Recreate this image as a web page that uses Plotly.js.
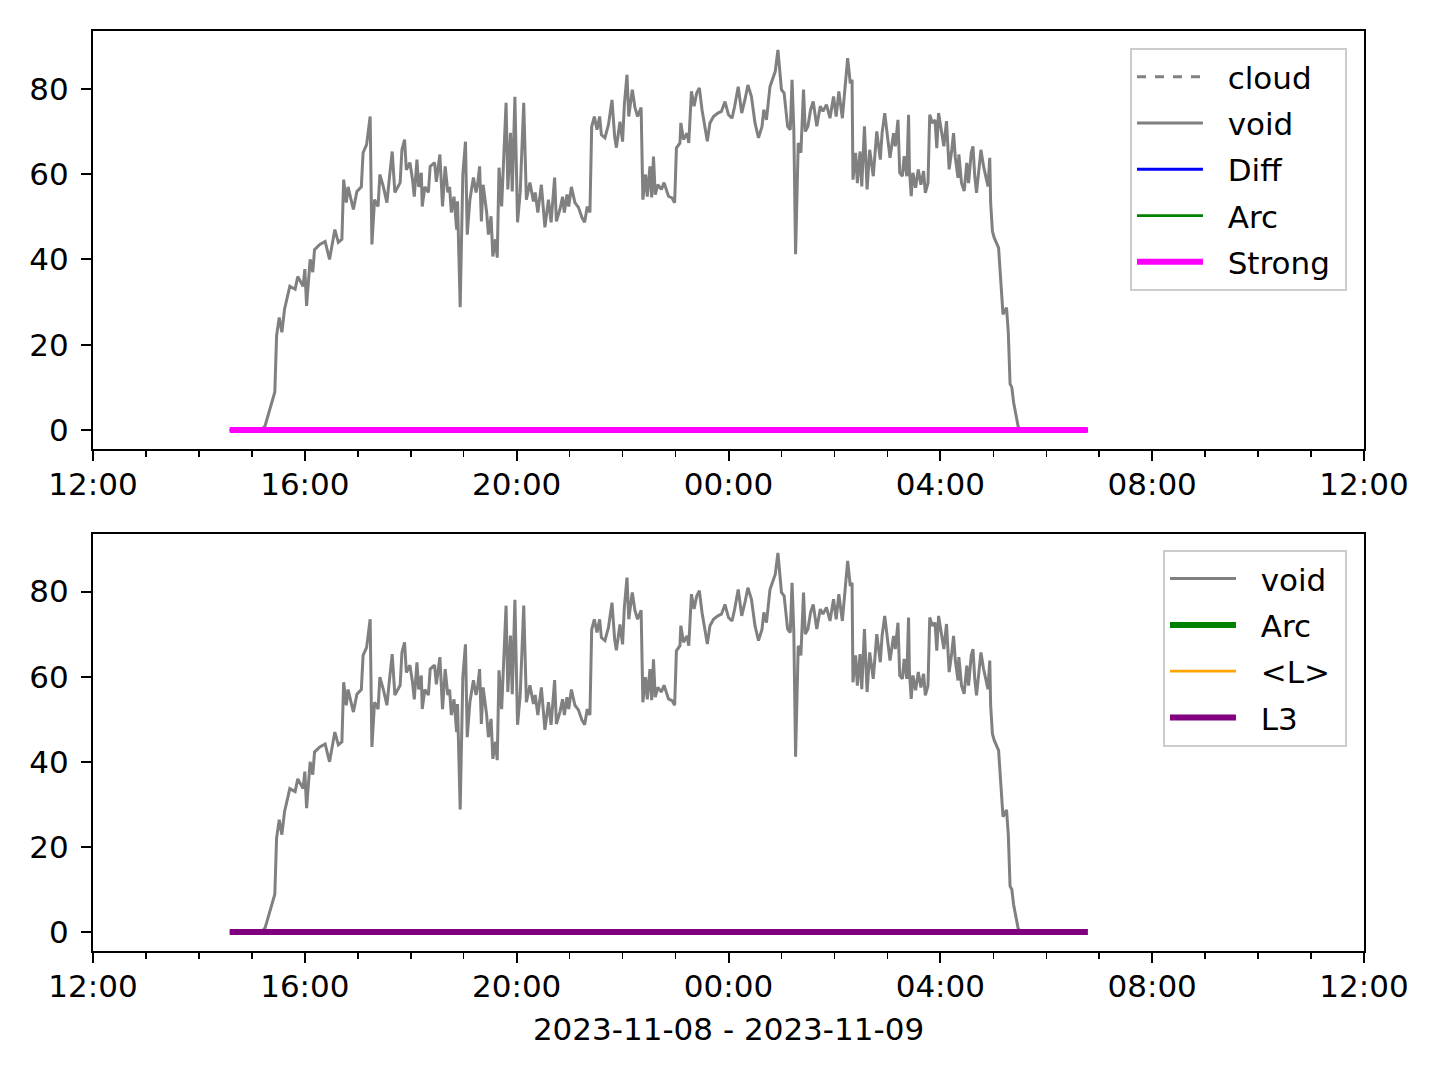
<!DOCTYPE html>
<html>
<head>
<meta charset="utf-8">
<script src="https://cdn.plot.ly/plotly-3.0.1.min.js"></script>
<style>html,body{margin:0;padding:0;background:#fff;}#chart{width:1440px;height:1080px;}</style>
</head>
<body>
<div id="chart"></div>
<script>
// ---- data (clock times; 12:00-23:59 on 2023-11-08, 00:00-11:59 on 2023-11-09) ----
const voidTimes = ["14:35","15:11","15:15","15:20","15:26","15:28","15:31","15:34","15:37","15:43","15:49","15:52","15:58","16:00","16:02","16:06","16:09","16:11","16:17","16:23","16:28","16:34","16:38","16:42","16:44","16:47","16:49","16:55","16:59","17:04","17:06","17:10","17:14","17:16","17:19","17:23","17:25","17:29","17:33","17:36","17:39","17:42","17:48","17:50","17:53","17:55","17:59","18:02","18:04","18:07","18:09","18:12","18:13","18:16","18:20","18:22","18:27","18:29","18:33","18:36","18:39","18:42","18:44","18:46","18:49","18:52","18:53","18:56","18:58","18:59","19:02","19:04","19:07","19:11","19:14","19:16","19:18","19:20","19:22","19:26","19:28","19:31","19:33","19:36","19:38","19:40","19:43","19:45","19:48","19:50","19:53","19:55","19:58","20:01","20:04","20:08","20:11","20:15","20:19","20:21","20:24","20:28","20:32","20:36","20:39","20:43","20:45","20:49","20:52","20:54","20:57","20:59","21:02","21:06","21:10","21:14","21:17","21:20","21:23","21:25","21:28","21:31","21:34","21:36","21:40","21:44","21:48","21:51","21:53","21:57","22:00","22:02","22:05","22:07","22:11","22:14","22:17","22:21","22:23","22:26","22:28","22:31","22:33","22:35","22:37","22:40","22:44","22:47","22:52","22:56","22:59","23:01","23:05","23:06","23:09","23:13","23:15","23:18","23:21","23:24","23:27","23:30","23:33","23:36","23:39","23:43","23:48","23:52","23:56","00:00","00:04","00:07","00:11","00:15","00:19","00:22","00:26","00:30","00:34","00:38","00:40","00:43","00:47","00:51","00:53","00:56","01:00","01:03","01:07","01:10","01:12","01:14","01:16","01:19","01:22","01:25","01:27","01:30","01:33","01:36","01:40","01:44","01:47","01:51","01:55","01:59","02:02","02:05","02:09","02:12","02:15","02:18","02:20","02:21","02:24","02:26","02:29","02:31","02:34","02:37","02:40","02:44","02:48","02:52","02:54","02:57","03:01","03:03","03:07","03:09","03:12","03:14","03:17","03:19","03:22","03:24","03:25","03:27","03:29","03:32","03:35","03:38","03:41","03:43","03:46","03:48","03:51","03:54","03:56","03:58","04:01","04:04","04:07","04:10","04:13","04:15","04:17","04:20","04:21","04:24","04:27","04:30","04:32","04:35","04:37","04:39","04:41","04:44","04:46","04:49","04:51","04:54","04:56","04:57","04:59","05:01","05:06","05:09","05:11","05:15","05:17","05:19","05:21","05:23","05:25","05:28","05:30","06:47"];
const voidValues = [0,0,1,4.9,8.9,22.1,26.4,22.9,28.3,33.7,33,36,33.7,37.7,29.1,40,37,42.3,43.5,44.2,40,47,44,44.7,58.7,53.3,57,51.7,55.9,57,65,66.9,73.5,43.5,54,52.4,59.9,57,53.3,59.5,65.3,55.7,58,65.7,68.1,61,62.7,58.7,54.7,63.4,57,60.3,52.4,57,55.7,61.8,62.7,58.2,64.6,52.4,61.8,55.7,57,51,54.7,47,53.6,28.8,55.7,59.9,67.6,45.8,54,59.2,55.7,58,61.8,48.9,57.5,51,45.8,50.1,40.7,44.7,40.4,61.5,52.4,62.7,76.7,56.4,69.7,55.9,78.1,48.7,55.7,76.7,54,58,53.6,55.7,51,57.5,47.5,54,48.7,59.2,48.9,51.7,54.7,51,55.2,52.4,57,53.3,52.2,49.8,48.7,52.4,51,71.1,73.5,70.4,73.5,69.2,68.5,71.6,77.4,68.8,66.2,72.3,67.6,76.3,83.3,73.5,79.8,75.6,73.5,75.6,54,59.9,54.7,61.8,54.5,64.1,55.2,57.5,56.4,58,54.8,54.4,53.3,66.1,67.3,72,68.1,69.6,67.3,79.4,75.9,79,80.2,75.1,70.8,67.7,72,73.5,74.3,74.7,77,73.9,73.1,75.9,80.5,74.3,77.8,80.9,78.2,72,68.5,71.2,75.1,72.7,80.5,82.9,84.1,89.1,79.8,79,71.2,70.4,82.1,70.4,41.2,67.3,65,79.8,70,71.2,75.1,77,71.2,75.9,74.7,76.3,73.1,78.2,73.5,79.4,73.1,80.2,87.2,81.3,82.1,58.7,65,57.9,65.3,57.1,71.2,56.4,65.7,59.5,70,63.4,69.6,74.3,68.1,63.8,69.6,66.5,72.7,60.3,59.5,64.2,59.5,73.9,61.1,54.8,60.3,56.8,61.1,57.5,60.7,55.6,57.9,73.9,72,72.7,66.1,74.3,70.4,66.5,72.4,61.1,65.7,69.6,63.8,59.1,64.6,57.9,56,62.6,57.9,65,66.5,59.5,55.6,61.1,65.7,61.8,59.9,57.1,63.8,53.3,46.6,45.1,42.7,32.2,27.1,28.7,22.9,10.8,10,6.5,4.1,1,0,0];

const cloudTimes = ["14:35","06:47"];  const cloudValues = [0,0];
const diffTimes = ["14:35","06:47"];   const diffValues = [0,0];
const arcTimes = ["14:35","06:47"];    const arcValues = [0,0];
const strongTimes = ["14:35","06:47"]; const strongValues = [0,0];
const meanLTimes = ["14:35","06:47"];  const meanLValues = [0,0];
const l3Times = ["14:35","06:47"];     const l3Values = [0,0];

const yTicks = [0,20,40,60,80];
const xLabel = "2023-11-08 - 2023-11-09";

// ---- helpers ----
function stamp(hm){ const h = parseInt(hm.slice(0,2),10); return (h >= 12 ? "2023-11-08 " : "2023-11-09 ") + hm; }
const T = a => a.map(stamp);
const lbl = s => "\u00a0\u00a0" + s + "\u00a0";

const FONT = "DejaVu Sans, Liberation Sans, sans-serif";
const FS = 31;
const traces = [
  {x:T(cloudTimes), y:cloudValues, name:lbl("cloud"), legendgroup:"a1", line:{color:"#808080", width:3, dash:"dash"}},
  {x:T(voidTimes), y:voidValues, name:lbl("void"), legendgroup:"a2", line:{color:"#808080", width:3}},
  {x:T(diffTimes), y:diffValues, name:lbl("Diff"), legendgroup:"a3", line:{color:"#0000ff", width:2.8}},
  {x:T(arcTimes), y:arcValues, name:lbl("Arc"), legendgroup:"a4", line:{color:"#008000", width:2.8}},
  {x:T(strongTimes), y:strongValues, name:lbl("Strong"), legendgroup:"a5", line:{color:"#ff00ff", width:6}},
  {x:T(voidTimes), y:voidValues, name:lbl("void"), legendgroup:"b1", xaxis:"x2", yaxis:"y2", legend:"legend2", line:{color:"#808080", width:3}},
  {x:T(arcTimes), y:arcValues, name:lbl("Arc"), legendgroup:"b2", xaxis:"x2", yaxis:"y2", legend:"legend2", line:{color:"#008000", width:6}},
  {x:T(meanLTimes), y:meanLValues, name:lbl("&lt;L&gt;"), legendgroup:"b3", xaxis:"x2", yaxis:"y2", legend:"legend2", line:{color:"#ffa500", width:2.8}},
  {x:T(l3Times), y:l3Values, name:lbl("L3"), legendgroup:"b4", xaxis:"x2", yaxis:"y2", legend:"legend2", line:{color:"#800080", width:6}}
].map(t => Object.assign({type:"scatter", mode:"lines", hoverinfo:"skip"}, t));

const xBase = {
  type:"date", range:["2023-11-08 12:00","2023-11-09 12:00"],
  tick0:"2023-11-08 12:00", dtick:4*3600000, tickformat:"%H:%M",
  ticks:"outside", ticklen:10, tickwidth:2, tickcolor:"#000",
  showline:true, linecolor:"#000", linewidth:2, mirror:true,
  showgrid:false, zeroline:false, ticklabelstandoff:-3,
  tickfont:{size:FS, color:"#000", family:FONT},
  minor:{dtick:3600000, tick0:"2023-11-08 12:00", ticks:"outside", ticklen:6, tickwidth:1.5, tickcolor:"#000", showgrid:false}
};
const yBase = {
  range:[-4.45, 93.55], tickvals:yTicks, ticks:"outside", ticklen:10, tickwidth:2, tickcolor:"#000",
  showline:true, linecolor:"#000", linewidth:2, mirror:true, showgrid:false, zeroline:false,
  ticklabelstandoff:6,
  tickfont:{size:FS, color:"#000", family:FONT}
};
const legBase = {
  xanchor:"right", yanchor:"top", bgcolor:"rgba(255,255,255,0.8)",
  bordercolor:"#cccccc", borderwidth:2, font:{size:FS, color:"#000", family:FONT},
  tracegroupgap:3, itemwidth:66, traceorder:"grouped"
};

const layout = {
  width:1440, height:1080, paper_bgcolor:"#fff", plot_bgcolor:"#fff",
  margin:{l:93, r:76, t:31, b:129},
  font:{family:FONT, color:"#000"},
  showlegend:true,
  xaxis:Object.assign({}, xBase, {anchor:"y"}),
  yaxis:Object.assign({}, yBase, {domain:[0.5457,1], anchor:"x"}),
  xaxis2:Object.assign({}, xBase, {anchor:"y2", title:{text:xLabel, font:{size:FS, color:"#000", family:FONT}, standoff:15}}),
  yaxis2:Object.assign({}, yBase, {domain:[0,0.4533], anchor:"x2"}),
  legend:Object.assign({}, legBase, {x:0.9866, y:0.9815}),
  legend2:Object.assign({}, legBase, {x:0.9866, y:0.4359})
};

Plotly.newPlot("chart", traces, layout, {displayModeBar:false, staticPlot:true});
</script>
</body>
</html>
